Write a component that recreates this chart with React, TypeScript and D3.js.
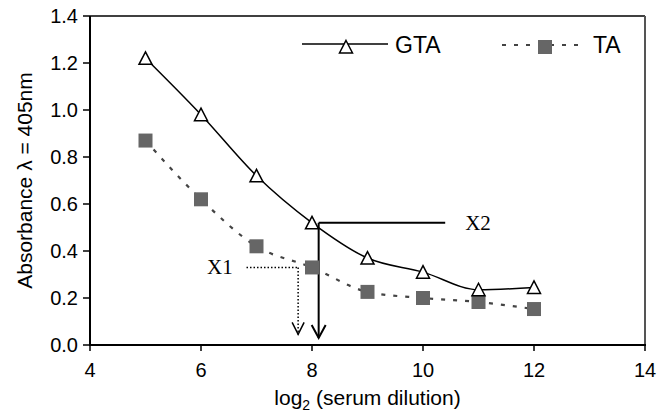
import React from "react";
import * as d3 from "d3";

const dilution = [5, 6, 7, 8, 9, 10, 11, 12];
const gta = [1.22, 0.98, 0.72, 0.52, 0.37, 0.31, 0.235, 0.245];
const ta = [0.87, 0.62, 0.42, 0.33, 0.226, 0.2, 0.183, 0.153];
const xTicks = [4, 6, 8, 10, 12, 14];
const yTicks = [0, 0.2, 0.4, 0.6, 0.8, 1.0, 1.2, 1.4];
// annotation anchors in data units
const x1Point = { x: 7.75, y: 0.33, fromX: 6.82, toY: 0.045 };
const x2Point = { x: 8.12, y: 0.52, toX: 10.4, toY: 0.03 };

const W = 670;
const H = 415;
const L = 90, R = 645, T = 16, B = 345;

export default function App() {
  const x = d3.scaleLinear().domain([4, 14]).range([L, R]);
  const y = d3.scaleLinear().domain([0, 1.4]).range([B, T]);
  const line = d3
    .line<number>()
    .x((_, i) => x(dilution[i]))
    .y((d) => y(d))
    .curve(d3.curveMonotoneX);

  const tri = (cx: number, cy: number) =>
    `M${cx},${cy - 6.5}L${cx + 6.5},${cy + 6}L${cx - 6.5},${cy + 6}Z`;

  const sans = "'Liberation Sans', Arial, sans-serif";
  const serif = "'Liberation Serif', 'Times New Roman', serif";

  const ax1 = x(x1Point.x), ay1 = y(x1Point.y), ay1b = y(x1Point.toY);
  const ax2 = x(x2Point.x), ay2 = y(x2Point.y), ay2b = y(x2Point.toY);

  return (
    <svg width={W} height={H} style={{ position: "absolute", left: 0, top: 0, background: "#fff" }}>
      {/* frame */}
      <line x1={L} y1={T} x2={R} y2={T} stroke="#000" strokeWidth={1.5} />
      <line x1={R} y1={T} x2={R} y2={B} stroke="#555" strokeWidth={2} />
      <line x1={L} y1={T} x2={L} y2={B + 1} stroke="#000" strokeWidth={2} />
      <line x1={L - 1} y1={B} x2={R + 1} y2={B} stroke="#000" strokeWidth={2} />
      {yTicks.map((t) => (
        <g key={"y" + t}>
          <line x1={L - 7} x2={L} y1={y(t)} y2={y(t)} stroke="#000" strokeWidth={1.5} />
          <text x={L - 12} y={y(t)} dy="0.36em" textAnchor="end" fontFamily={sans} fontSize={20} fill="#000">
            {t.toFixed(1)}
          </text>
        </g>
      ))}
      {xTicks.map((t) => (
        <g key={"x" + t}>
          <line x1={x(t)} x2={x(t)} y1={B} y2={B + 6} stroke="#000" strokeWidth={1.5} />
          <text x={x(t)} y={377} textAnchor="middle" fontFamily={sans} fontSize={20} fill="#000">
            {t}
          </text>
        </g>
      ))}
      <text x={(L + R) / 2} y={405} textAnchor="middle" fontFamily={sans} fontSize={21} fill="#000">
        log<tspan fontSize={14} dy={5}>2</tspan>
        <tspan dy={-5}> (serum dilution)</tspan>
      </text>
      <text
        transform={`translate(32,${(T + B) / 2}) rotate(-90)`}
        textAnchor="middle"
        fontFamily={sans}
        fontSize={21}
        fill="#000"
      >
        Absorbance λ = 405nm
      </text>

      {/* series lines */}
      <path d={line(ta) || ""} fill="none" stroke="#444" strokeWidth={2.2} strokeDasharray="4,8" />
      <path d={line(gta) || ""} fill="none" stroke="#000" strokeWidth={1.5} />

      {/* annotations */}
      <text x={207} y={ay1 + 7} fontFamily={serif} fontSize={21} fill="#000">X1</text>
      <line x1={x(x1Point.fromX)} y1={ay1} x2={ax1} y2={ay1} stroke="#000" strokeWidth={1.5} strokeDasharray="1.5,2" />
      <line x1={ax1} y1={ay1} x2={ax1} y2={ay1b} stroke="#000" strokeWidth={1.5} strokeDasharray="1.5,2" />
      <path d={`M${ax1 - 6},${ay1b - 12}L${ax1},${ay1b}L${ax1 + 6},${ay1b - 12}`} fill="none" stroke="#000" strokeWidth={1.5} />

      <line x1={ax2} y1={ay2} x2={x(x2Point.toX)} y2={ay2} stroke="#000" strokeWidth={2} />
      <line x1={ax2} y1={ay2} x2={ax2} y2={ay2b} stroke="#000" strokeWidth={2} />
      <path d={`M${ax2 - 7},${ay2b - 13}L${ax2},${ay2b}L${ax2 + 7},${ay2b - 13}`} fill="none" stroke="#000" strokeWidth={2} />
      <text x={x(x2Point.toX) + 20} y={ay2 + 7} fontFamily={serif} fontSize={21} fill="#000">X2</text>

      {/* markers */}
      {ta.map((v, i) => (
        <rect key={"s" + i} x={x(dilution[i]) - 7} y={y(v) - 7} width={14} height={14} fill="#666" />
      ))}
      {gta.map((v, i) => (
        <path key={"t" + i} d={tri(x(dilution[i]), y(v))} fill="#fff" stroke="#000" strokeWidth={1.5} />
      ))}

      {/* legend */}
      <line x1={302} x2={388} y1={44} y2={44} stroke="#000" strokeWidth={1.5} />
      <path d={tri(346, 47)} fill="#fff" stroke="#000" strokeWidth={1.5} />
      <text x={395} y={53} fontFamily={sans} fontSize={23} fill="#000">GTA</text>
      <line x1={502} x2={586} y1={45} y2={45} stroke="#444" strokeWidth={2.2} strokeDasharray="4,8" />
      <rect x={538} y={40} width={14} height={14} fill="#666" />
      <text x={593} y={53} fontFamily={sans} fontSize={23} fill="#000">TA</text>
    </svg>
  );
}
